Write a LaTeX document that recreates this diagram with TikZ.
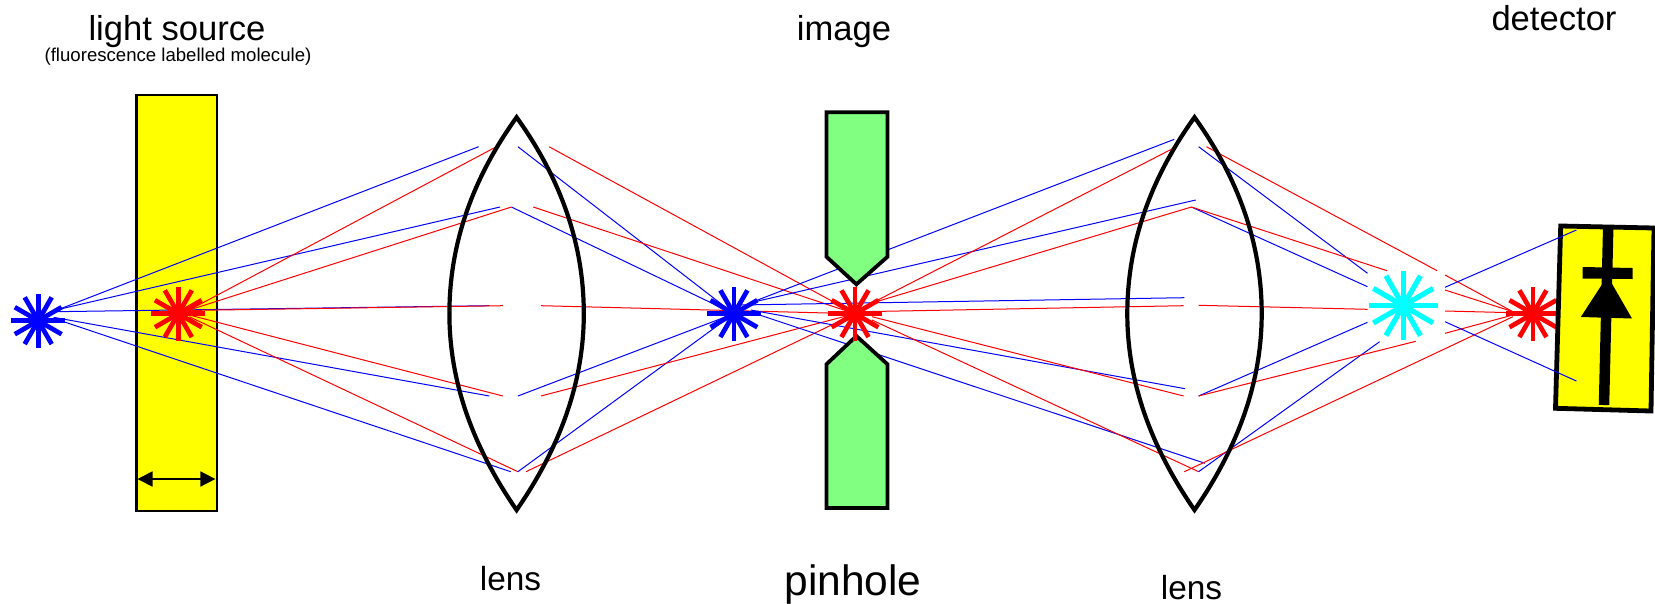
\documentclass[tikz,border=0pt]{standalone}
\usepackage{fontspec}
\setmainfont{Liberation Sans}
\usetikzlibrary{arrows.meta,calc}
\definecolor{pgreen}{HTML}{80FF80}
\definecolor{pyellow}{HTML}{FFFF00}
\definecolor{pcyan}{HTML}{00FFFF}
\definecolor{pblue}{HTML}{0000FF}
\definecolor{pred}{HTML}{FF0000}
\tikzset{
  blueray/.style={draw=pblue,line width=1pt},
  redray/.style={draw=pred,line width=1pt},
  lensline/.style={draw=black,line width=4.2pt,line join=miter},
  plate/.style={draw=black,line width=3.8pt,fill=pgreen,line join=miter},
  label/.style={anchor=base,inner sep=0pt,text=black},
  starray/.style={line width=4.7pt}
}
\newcommand{\burst}[5][4.7pt]{%
  \foreach \a in {0,30,...,150}{\draw[starray,line width=#1,draw=#5] ($(#2,#3)+(\a:#4)$) -- ($(#2,#3)+(\a+180:#4)$);}%
}
\newcommand{\lensshape}[1]{%
  \draw[lensline] (#1,117.3) .. controls (#1-41.5,175) and (#1-67.2,240) .. (#1-67.2,313.7)
     .. controls (#1-67.2,385) and (#1-41.5,450) .. (#1,510)
     .. controls (#1+41.5,450) and (#1+67.2,385) .. (#1+67.2,313.7)
     .. controls (#1+67.2,240) and (#1+41.5,175) .. cycle;%
}
\begin{document}
\begin{tikzpicture}[x=1pt,y=-1pt]
\useasboundingbox (0,0) rectangle (1655,603);
% sample
\draw[draw=black,line width=2.2pt,fill=pyellow] (136.4,94.7) rectangle (216.8,511);
\draw[{Triangle[length=15pt,width=15pt]}-{Triangle[length=15pt,width=15pt]},line width=1.6pt] (137.5,479) -- (215.4,479);
% rays: source to first lens
\draw[blueray] (59,309.3) -- (478.6,146.7);
\draw[blueray] (59,309.3) -- (500,207);
\draw[blueray] (53.6,311.7) -- (489.3,305.7);
\draw[blueray] (53.6,317.3) -- (489.3,396);
\draw[blueray] (53.6,318.3) -- (510.7,471.7);
\draw[redray] (189.3,310) -- (496.4,146.7);
\draw[redray] (189.3,310) -- (511.4,207);
\draw[redray] (171.4,310.7) -- (502.9,305.7);
\draw[redray] (189.3,315) -- (502.9,396);
\draw[redray] (189.3,316.7) -- (517.9,471.7);
% rays: first lens to image
\draw[blueray] (517.9,146.7) -- (733.9,313.7);
\draw[blueray] (511.4,207) -- (733.9,313.7);
\draw[blueray] (517.9,396) -- (733.9,313.7);
\draw[blueray] (517.9,471.7) -- (733.9,313.7);
\draw[redray] (549,146.7) -- (855,313.7);
\draw[redray] (533.2,207) -- (855,313.7);
\draw[redray] (541,305.7) -- (855,313.7);
\draw[redray] (541,396) -- (855,313.7);
\draw[redray] (526,471.7) -- (855,313.7);
% rays: image to second lens
\draw[blueray] (750.7,302.7) -- (1174.3,139.3);
\draw[blueray] (750.7,302.7) -- (1195.7,200);
\draw[blueray] (740,305) -- (1184.3,297.7);
\draw[blueray] (750.7,310) -- (1185,388.7);
\draw[blueray] (759.6,315) -- (1205,463.3);
\draw[redray] (872,303) -- (1176.4,146.7);
\draw[redray] (872,303) -- (1191.4,207);
\draw[redray] (861.4,311.7) -- (1183.6,305.7);
\draw[redray] (872,316.7) -- (1183.6,396);
\draw[redray] (872,320) -- (1198.6,471.7);
% pinhole
\draw[plate] (826.4,112.3) -- (887.5,112.3) -- (887.5,256.7) -- (856.4,284.3) -- (826.4,256.7) -- cycle;
\draw[plate] (826.4,508) -- (887.5,508) -- (887.5,364.3) -- (856.4,336) -- (826.4,364.3) -- cycle;
% rays: second lens to cyan image
\draw[blueray] (1198.6,146.7) -- (1367.5,273.3);
\draw[blueray] (1191.4,207) -- (1367.5,286.7);
\draw[blueray] (1198.6,396) -- (1367.5,322.3);
\draw[blueray] (1198.6,471.7) -- (1379.6,341.7);
\draw[redray] (1206.4,146.7) -- (1437.1,270.7);
\draw[redray] (1191.4,207) -- (1387,270.7);
\draw[redray] (1198.6,305.3) -- (1367.5,309.3);
\draw[redray] (1198.6,396) -- (1415.7,341.3);
\draw[redray] (1184.3,471.7) -- (1512.9,316.7);
% rays: after cyan image
\draw[redray] (1445,275) -- (1512.9,311.7);
\draw[redray] (1445,290) -- (1512.9,311.7);
\draw[redray] (1445,311) -- (1512.9,312.7);
\draw[redray] (1445,333.3) -- (1512.9,315);
% lenses
\lensshape{516.6}
\lensshape{1194.5}
% stars
\burst{38.2}{320.7}{27}{pblue}
\burst{178.3}{313.7}{27}{pred}
\burst{733.9}{313.7}{27}{pblue}
\burst{855}{313.7}{27}{pred}
\burst[5.2pt]{1403.2}{305.7}{34.5}{pcyan}
\burst{1532.9}{313.7}{27}{pred}
% detector
\draw[draw=black,line width=4.8pt,fill=pyellow,line join=miter] (1560.7,226) -- (1654,228) -- (1651,411) -- (1555.5,408.3) -- cycle;
\draw[line width=10.5pt] (1608.2,228) -- (1604,405);
\fill[black] (1582.5,267) -- (1632.7,268) -- (1632.7,279) -- (1582.5,278.5) -- cycle;
\fill[black] (1607.5,276) -- (1632,318.5) -- (1580.8,317) -- cycle;
\draw[blueray] (1445,287.3) -- (1576.4,230);
\draw[blueray] (1445,321.7) -- (1576.4,381);
% labels
\node[label,font=\fontsize{34.6}{40}\selectfont] (src) at (177,40) {light source};
\node[label,font=\fontsize{18.6}{22}\selectfont] (srcsub) at (178,61) {(fluorescence labelled molecule)};
\node[label,font=\fontsize{34.6}{40}\selectfont] (img) at (844,40) {image};
\node[label,font=\fontsize{34.6}{40}\selectfont] (det) at (1554,30) {detector};
\node[label,font=\fontsize{33.4}{40}\selectfont] (lensa) at (510.5,590.5) {lens};
\node[label,font=\fontsize{42.5}{50}\selectfont] (pin) at (853,595.5) {pinhole};
\node[label,font=\fontsize{33.4}{40}\selectfont] (lensb) at (1191.5,599) {lens};
\end{tikzpicture}
\end{document}
